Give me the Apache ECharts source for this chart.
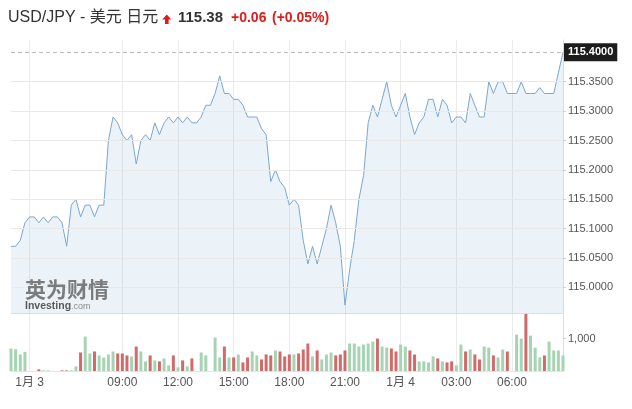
<!DOCTYPE html>
<html>
<head>
<meta charset="utf-8">
<script src="https://cdn.jsdelivr.net/npm/echarts@6/dist/echarts.min.js"></script>
<style>
html,body{margin:0;padding:0;background:#fff;}
#chart{width:632px;height:409px;}
</style>
</head>
<body>
<div id="chart"></div>
<script>
// ---- data ----
const startMinutes = 180; // 01-03 03:00, 15-minute bars
const categories = [];
for (let i = 0; i < 120; i++) {
  const m = startMinutes + i * 15;
  const day = m >= 1440 ? 4 : 3;
  const mm = m % 1440;
  const hh = String(Math.floor(mm / 60)).padStart(2, '0');
  const mi = String(mm % 60).padStart(2, '0');
  categories.push('01-0' + day + ' ' + hh + ':' + mi);
}

const price = [
  115.07,115.07,115.08,115.11,115.12,115.12,115.11,115.12,115.11,115.12,
  115.12,115.11,115.07,115.14,115.15,115.12,115.14,115.14,115.12,115.14,
  115.14,115.25,115.29,115.28,115.26,115.25,115.26,115.21,115.25,115.26,
  115.25,115.28,115.26,115.28,115.29,115.28,115.29,115.28,115.29,115.28,
  115.28,115.29,115.31,115.31,115.33,115.36,115.33,115.33,115.32,115.32,
  115.31,115.29,115.29,115.29,115.27,115.26,115.18,115.20,115.18,115.17,
  115.14,115.15,115.14,115.08,115.04,115.07,115.04,115.07,115.10,115.14,
  115.11,115.07,114.97,115.03,115.08,115.15,115.19,115.28,115.31,115.29,
  115.32,115.35,115.31,115.29,115.31,115.33,115.29,115.26,115.28,115.29,
  115.32,115.32,115.29,115.32,115.31,115.28,115.29,115.29,115.28,115.33,
  115.31,115.29,115.29,115.35,115.33,115.35,115.35,115.33,115.33,115.33,
  115.35,115.33,115.33,115.33,115.34,115.33,115.33,115.33,115.365,115.40
];

const volume = [
  694,673,510,592,0,0,51,20,20,0,
  0,20,20,20,143,571,1061,541,602,480,
  418,510,602,541,541,480,449,755,602,296,
  480,327,296,388,173,480,112,327,143,388,
  0,571,480,0,1031,418,755,418,418,510,
  265,418,602,480,357,510,480,633,602,449,
  510,510,541,663,847,449,633,357,510,571,
  480,510,633,847,847,755,816,847,908,1000,
  755,724,694,602,816,755,633,510,296,296,
  265,449,388,296,265,296,173,816,602,663,
  510,357,755,724,480,418,663,602,0,1122,
  1000,1760,1092,724,418,480,908,633,633,480
];

// u = up (green), d = down (red)
const direction = [
  'uuuuuuduuu','udduuduudu','uuuddduduu','duduududud','uuuuuududu',
  'dduudddudd','duddduduuu','ddduuuuuud','uudduudduu','uududduudu',
  'dduuduuduu','uduuuduuuu'
].join('').split('');

const tickTimes = ['01-03 04:00','01-03 09:00','01-03 12:00','01-03 15:00','01-03 18:00','01-03 21:00','01-04 00:00','01-04 03:00','01-04 06:00'];
const tickLabels = ['1月 3','09:00','12:00','15:00','18:00','21:00','1月 4','03:00','06:00'];

const priceTicks = [115.00,115.05,115.10,115.15,115.20,115.25,115.30,115.35];
const lastPrice = 115.40;
const volumeTicks = [1000];

const titleName = 'USD/JPY - 美元 日元';
const titlePrice = '115.38';
const titleChange = '+0.06';
const titleChangePct = '(+0.05%)';

// ---- chart ----
const FONT = '"Liberation Sans", Arial, "Noto Sans CJK SC", sans-serif';
const GREEN = '#a6d4b3';
const RED = '#d16a6a';
const UPRED = '#dd1c1c';

const isTick = (idx, val) => tickTimes.indexOf(categories[idx]) >= 0;

const chart = echarts.init(document.getElementById('chart'), null, {renderer: 'canvas'});
chart.setOption({
  animation: false,
  textStyle: {fontFamily: FONT},
  grid: [
    {left: 11, right: 69, top: 40, bottom: 95.7},
    {left: 11, right: 69, top: 313.3, bottom: 38}
  ],
  xAxis: [
    {
      type: 'category', gridIndex: 0, data: categories, boundaryGap: false,
      axisLine: {show: true, lineStyle: {color: '#dbe3ec'}},
      axisTick: {show: false}, axisLabel: {show: false},
      splitLine: {show: true, interval: isTick, lineStyle: {color: '#ebebeb'}}
    },
    {
      type: 'category', gridIndex: 1, data: categories, boundaryGap: false,
      axisLine: {show: true, lineStyle: {color: '#e3e3e3'}},
      axisTick: {show: false},
      axisLabel: {
        interval: isTick, color: '#555', fontSize: 12, margin: 6, fontFamily: FONT,
        formatter: (v) => { const k = tickTimes.indexOf(v); return k >= 0 ? tickLabels[k] : ''; }
      },
      splitLine: {show: true, interval: isTick, lineStyle: {color: '#ebebeb'}}
    }
  ],
  yAxis: [
    {
      type: 'value', gridIndex: 0, position: 'right', min: 114.956, max: 115.421,
      splitLine: {show: false},
      axisLine: {show: true, lineStyle: {color: '#dcdcdc'}},
      axisTick: {show: true, length: 3, customValues: priceTicks, lineStyle: {color: '#cfcfcf'}},
      axisLabel: {customValues: priceTicks, formatter: (v) => Number(v).toFixed(4), color: '#555', fontSize: 11, margin: 5, fontFamily: FONT}
    },
    {
      type: 'value', gridIndex: 1, position: 'right', min: 0, max: 1780,
      splitLine: {show: false},
      axisLine: {show: true, lineStyle: {color: '#dcdcdc'}},
      axisTick: {show: true, length: 3, customValues: volumeTicks, lineStyle: {color: '#cfcfcf'}},
      axisLabel: {customValues: volumeTicks, formatter: (v) => Number(v).toLocaleString('en-US'), color: '#555', fontSize: 11, margin: 5, fontFamily: FONT}
    }
  ],
  series: [
    {
      // horizontal grid lines at the labelled price ticks
      type: 'line', xAxisIndex: 0, yAxisIndex: 0, data: price, symbol: 'none', silent: true,
      lineStyle: {opacity: 0}, z: 1,
      markLine: {
        silent: true, symbol: 'none', label: {show: false},
        lineStyle: {color: '#e8e8e8', type: 'solid', width: 1},
        data: priceTicks.map(v => ({yAxis: v}))
      }
    },
    {
      type: 'line', xAxisIndex: 0, yAxisIndex: 0, data: price, symbol: 'none', z: 2,
      lineStyle: {color: '#7ba6ce', width: 1},
      areaStyle: {color: 'rgba(70,130,190,0.15)', origin: 'start'},
      markLine: {
        silent: true, symbol: 'none',
        lineStyle: {color: '#bdbdbd', type: [4, 3], width: 1},
        label: {
          show: true, position: 'end', formatter: () => lastPrice.toFixed(4),
          backgroundColor: '#1c1c1c', color: '#fff', fontWeight: 'bold', fontSize: 11,
          padding: [4, 4, 3, 4], distance: 1, fontFamily: FONT
        },
        data: [{yAxis: lastPrice}]
      }
    },
    {
      type: 'bar', xAxisIndex: 1, yAxisIndex: 1, barWidth: 3,
      data: volume.map((v, i) => ({value: v, itemStyle: {color: direction[i] === 'u' ? GREEN : RED}}))
    }
  ],
  graphic: [
    {type: 'text', left: 8, top: 10, z: 10, style: {text: titleName, font: '16px ' + FONT, fill: '#333'}},
    {type: 'polygon', z: 10, shape: {points: [[166.8, 14.5], [171.3, 19.6], [168.6, 19.6], [168.6, 24], [165, 24], [165, 19.6], [162.3, 19.6]]}, style: {fill: UPRED}},
    {type: 'text', left: 178, top: 10, z: 10, style: {text: titlePrice, font: 'bold 15px ' + FONT, fill: '#333'}},
    {type: 'text', left: 231, top: 11, z: 10, style: {text: titleChange, font: 'bold 14px ' + FONT, fill: UPRED}},
    {type: 'text', left: 272, top: 11, z: 10, style: {text: titleChangePct, font: 'bold 14px ' + FONT, fill: UPRED}},
    {type: 'text', left: 25, top: 279, z: 10, style: {text: '英为财情', font: 'bold 21px "Noto Sans CJK SC", sans-serif', fill: '#6f6f6f', opacity: 0.9}},
    {type: 'text', left: 25, top: 301, z: 10, style: {
      text: '{a|Investing}{b|.com}',
      rich: {a: {font: 'bold 10.5px ' + FONT, fill: '#5a5a5a'}, b: {font: '9px ' + FONT, fill: '#8a8a8a'}}
    }}
  ]
});
</script>
</body>
</html>
